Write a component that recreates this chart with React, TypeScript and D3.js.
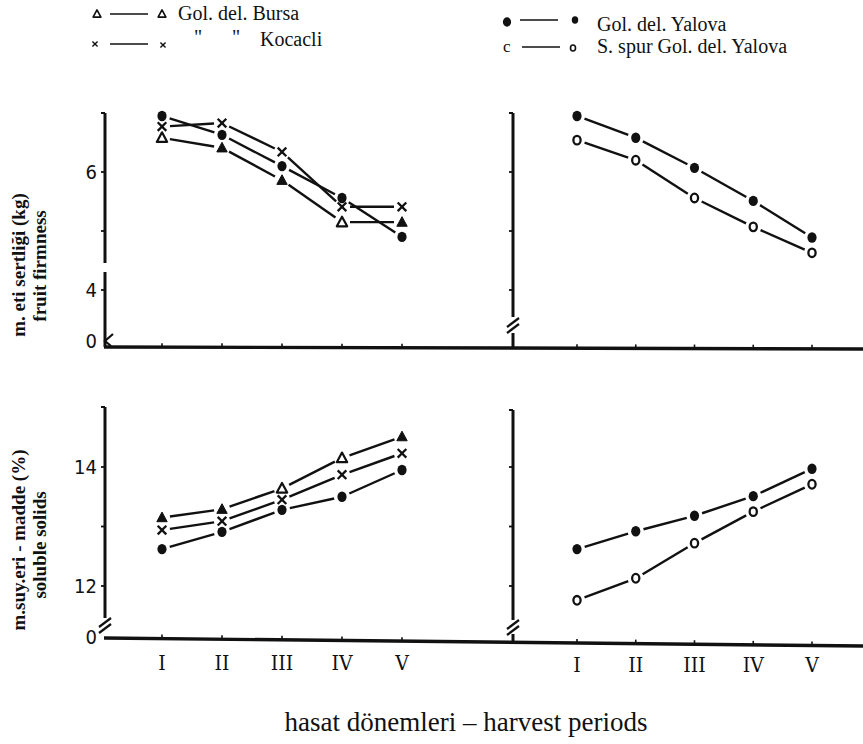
import React from "react";
import * as d3 from "d3";

// ---------- data ----------
const periods = ["I", "II", "III", "IV", "V"];

// fruit firmness (kg)
const firmBursa = [6.58, 6.41, 5.86, 5.15, 5.15];
const firmKocacli = [6.77, 6.83, 6.34, 5.41, 5.41];
const firmYalovaLeft = [6.95, 6.63, 6.1, 5.56, 4.9];
const firmYalovaRight = [6.95, 6.58, 6.07, 5.51, 4.89];
const firmSpur = [6.54, 6.2, 5.56, 5.07, 4.63];

// soluble solids (%)
const solBursa = [13.15, 13.29, 13.64, 14.15, 14.51];
const solKocacli = [12.94, 13.09, 13.45, 13.87, 14.23];
const solYalovaLeft = [12.62, 12.91, 13.28, 13.5, 13.95];
const solYalovaRight = [12.62, 12.92, 13.18, 13.51, 13.97];
const solSpur = [11.76, 12.13, 12.72, 13.25, 13.71];

const firmTicks = [4, 5, 6];
const firmTickLabels = ["4", "", "6"];
const solTicks = [12, 13, 14];
const solTickLabels = ["12", "", "14"];

const legendLeft = ["Gol. del. Bursa", "Kocacli"];
const legendRight = ["Gol. del. Yalova", "S. spur Gol. del. Yalova"];
const titleTop = ["m. eti sertliği (kg)", "fruit firmness"];
const titleBottom = ["m.suy.eri - madde (%)", "soluble solids"];
const xTitle = "hasat dönemleri – harvest periods";

// marker fill pattern for Bursa points as printed
const bursaFirmFilled = [false, true, true, false, true];
const bursaSolFilled = [true, true, false, false, true];

// ---------- styling ----------
const INK = "#111";
const SERIF = "Liberation Serif, Times New Roman, Tinos, DejaVu Serif, serif";
const COND = "DejaVu Sans Condensed, DejaVu Sans, sans-serif";
const ROMAN = "DejaVu Serif Condensed, DejaVu Serif, serif";

type MarkerKind = "tri" | "cross" | "dot" | "ring";

function Marker({ kind, x, y, filled, s = 1 }: { kind: MarkerKind; x: number; y: number; filled?: boolean; s?: number }) {
  if (kind === "dot") return <ellipse cx={x} cy={y} rx={4.6 * s} ry={5.2 * s} fill={INK} />;
  if (kind === "ring")
    return <ellipse cx={x} cy={y} rx={3.6 * s} ry={4.3 * s} fill="#fff" stroke={INK} strokeWidth={2.3 * s} />;
  if (kind === "cross") {
    const r = 4.3 * s;
    return (
      <g stroke={INK} strokeWidth={2.3 * s}>
        <line x1={x - r} y1={y - r} x2={x + r} y2={y + r} />
        <line x1={x - r} y1={y + r} x2={x + r} y2={y - r} />
      </g>
    );
  }
  const h = 5.5 * s;
  const w = 5.2 * s;
  const p = `M${x},${y - h}L${x + w},${y + h * 0.75}L${x - w},${y + h * 0.75}Z`;
  return filled ? (
    <path d={p} fill={INK} stroke={INK} strokeWidth={1} />
  ) : (
    <path d={p} fill="#fff" stroke={INK} strokeWidth={2.2 * s} strokeLinejoin="round" />
  );
}

function segments(xs: number[], ys: number[], gap: number) {
  const out: number[][] = [];
  for (let i = 0; i < xs.length - 1; i++) {
    const dx = xs[i + 1] - xs[i];
    const dy = ys[i + 1] - ys[i];
    const L = Math.hypot(dx, dy);
    const ux = dx / L;
    const uy = dy / L;
    out.push([xs[i] + ux * gap, ys[i] + uy * gap, xs[i + 1] - ux * gap, ys[i + 1] - uy * gap]);
  }
  return out;
}

type Series = { values: number[]; kind: MarkerKind; filled?: boolean[] };

function Panel({
  xRange,
  y,
  series,
  base,
}: {
  xRange: [number, number];
  y: d3.ScaleLinear<number, number>;
  series: Series[];
  base: (x: number) => number;
}) {
  const x = d3.scalePoint<string>().domain(periods).range(xRange);
  return (
    <g>
      {periods.map((p) => {
        const px = x(p)!;
        const b = base(px);
        return <line key={p} x1={px} x2={px} y1={b - 4} y2={b} stroke={INK} strokeWidth={1.6} />;
      })}
      {series.map((s, si) => {
        const xs = periods.map((p) => x(p)!);
        const ys = s.values.map((v) => y(v));
        return (
          <g key={si}>
            {segments(xs, ys, 8).map((sg, i) => (
              <line key={i} x1={sg[0]} y1={sg[1]} x2={sg[2]} y2={sg[3]} stroke={INK} strokeWidth={2.4} />
            ))}
            {xs.map((px, i) => (
              <Marker key={i} kind={s.kind} x={px} y={ys[i]} filled={s.filled ? s.filled[i] : false} />
            ))}
          </g>
        );
      })}
    </g>
  );
}

function YAxis({
  ax,
  top,
  y,
  ticks,
  labels,
  base,
  parts,
  slashY,
  squiggle,
}: {
  ax: number;
  top: number;
  y: d3.ScaleLinear<number, number>;
  ticks: number[];
  labels?: string[];
  base: number;
  parts: [number, number][];
  slashY?: number;
  squiggle?: boolean;
}) {
  return (
    <g>
      {parts.map((p, i) => (
        <line key={i} x1={ax} x2={ax} y1={p[0]} y2={p[1]} stroke={INK} strokeWidth={3} />
      ))}
      <line x1={ax - 4} x2={ax} y1={top} y2={top} stroke={INK} strokeWidth={2} />
      {ticks.map((t, i) => (
        <g key={t}>
          <line x1={ax - 4} x2={ax} y1={y(t)} y2={y(t)} stroke={INK} strokeWidth={1.8} />
          {labels && labels[i] ? (
            <text x={ax - 8} y={y(t) + 7} textAnchor="end" style={{ fontFamily: COND }} fontSize={20} fill={INK}>
              {labels[i]}
            </text>
          ) : null}
        </g>
      ))}
      {labels ? (
        <text x={ax - 8} y={base + 1} textAnchor="end" style={{ fontFamily: COND }} fontSize={20} fill={INK}>
          0
        </text>
      ) : null}
      {slashY !== undefined ? (
        <g stroke={INK} strokeWidth={2.2}>
          <line x1={ax - 6} y1={slashY + 5} x2={ax + 6} y2={slashY - 4} />
          <line x1={ax - 6} y1={slashY + 11} x2={ax + 6} y2={slashY + 2} />
        </g>
      ) : null}
      {squiggle ? (
        <path d={`M${ax + 8},${base - 13}L${ax},${base - 6}L${ax + 6},${base - 1}`} fill="none" stroke={INK} strokeWidth={2.2} />
      ) : null}
    </g>
  );
}

const serifStyle = { fontFamily: SERIF };

export default function App() {
  const yTop = d3.scaleLinear().domain([4, 6]).range([290, 172]);
  const yBot = d3.scaleLinear().domain([12, 14]).range([586, 467]);

  const topBase = (px: number) => 347 + ((px - 105) * 2) / 758;
  const botBase = (px: number) => 638 + ((px - 105) * 8) / 758;

  const lx = d3.scalePoint<string>().domain(periods).range([162, 402]);
  const rx = d3.scalePoint<string>().domain(periods).range([577, 812]);

  return (
    <svg width={863} height={744} style={{ position: "absolute", left: 0, top: 0, background: "#fff" }}>
      <rect width={863} height={744} fill="#fff" />

      {/* legends */}
      <g style={serifStyle} fontSize={20} fill={INK}>
        <Marker kind="tri" x={97} y={14} s={0.75} />
        <line x1={110} x2={148} y1={14} y2={14} stroke={INK} strokeWidth={1.6} />
        <Marker kind="tri" x={162} y={14} s={0.75} />
        <text x={178} y={20}>{legendLeft[0]}</text>
        <Marker kind="cross" x={95} y={44} s={0.6} />
        <line x1={110} x2={148} y1={44} y2={44} stroke={INK} strokeWidth={1.6} />
        <Marker kind="cross" x={163} y={45} s={0.6} />
        <text x={194} y={44}>"</text>
        <text x={232} y={44}>"</text>
        <text x={260} y={46}>{legendLeft[1]}</text>

        <Marker kind="dot" x={507} y={22} s={0.9} />
        <line x1={520} x2={558} y1={20} y2={20} stroke={INK} strokeWidth={1.6} />
        <Marker kind="dot" x={575} y={20} s={0.7} />
        <text x={597} y={31}>{legendRight[0]}</text>
        <text x={503} y={52} fontSize={17}>c</text>
        <line x1={522} x2={560} y1={47} y2={47} stroke={INK} strokeWidth={1.6} />
        <Marker kind="ring" x={573} y={48} s={0.7} />
        <text x={597} y={53}>{legendRight[1]}</text>
      </g>

      {/* baselines */}
      <line x1={104} y1={topBase(104)} x2={863} y2={topBase(863)} stroke={INK} strokeWidth={3.4} />
      <line x1={104} y1={botBase(104)} x2={863} y2={botBase(863)} stroke={INK} strokeWidth={3.4} />

      {/* y axes */}
      <YAxis ax={105} top={113} y={yTop} ticks={firmTicks} labels={firmTickLabels} base={347}
        parts={[[113, 263], [272, 347]]} squiggle />
      <YAxis ax={513} top={113} y={yTop} ticks={firmTicks} base={348}
        parts={[[113, 317], [333, 348]]} slashY={322} />
      <YAxis ax={105} top={407} y={yBot} ticks={solTicks} labels={solTickLabels} base={643}
        parts={[[407, 618]]} slashY={622} />
      <YAxis ax={513} top={410} y={yBot} ticks={solTicks} base={642}
        parts={[[410, 620], [634, 642]]} slashY={624} />

      {/* panels */}
      <Panel xRange={[162, 402]} y={yTop} base={topBase}
        series={[
          { values: firmBursa, kind: "tri", filled: bursaFirmFilled },
          { values: firmKocacli, kind: "cross" },
          { values: firmYalovaLeft, kind: "dot" },
        ]} />
      <Panel xRange={[577, 812]} y={yTop} base={topBase}
        series={[
          { values: firmYalovaRight, kind: "dot" },
          { values: firmSpur, kind: "ring" },
        ]} />
      <Panel xRange={[162, 402]} y={yBot} base={botBase}
        series={[
          { values: solBursa, kind: "tri", filled: bursaSolFilled },
          { values: solKocacli, kind: "cross" },
          { values: solYalovaLeft, kind: "dot" },
        ]} />
      <Panel xRange={[577, 812]} y={yBot} base={botBase}
        series={[
          { values: solYalovaRight, kind: "dot" },
          { values: solSpur, kind: "ring" },
        ]} />

      {/* category labels */}
      {periods.map((p) => (
        <text key={"l" + p} x={lx(p)!} y={670} textAnchor="middle" style={{ fontFamily: ROMAN }} fontSize={21} fill={INK}>
          {p}
        </text>
      ))}
      {periods.map((p) => (
        <text key={"r" + p} x={rx(p)!} y={672} textAnchor="middle" style={{ fontFamily: ROMAN }} fontSize={21} fill={INK}>
          {p}
        </text>
      ))}

      {/* axis titles */}
      <g style={serifStyle} fontWeight="bold" fill={INK} textAnchor="middle" fontSize={19}>
        <text transform="translate(25,265) rotate(-90)">{titleTop[0]}</text>
        <text transform="translate(46,266) rotate(-90)">{titleTop[1]}</text>
        <text transform="translate(25,540) rotate(-90)">{titleBottom[0]}</text>
        <text transform="translate(46,545) rotate(-90)">{titleBottom[1]}</text>
      </g>

      <text x={466} y={731} textAnchor="middle" style={serifStyle} fontSize={27} fill={INK}>
        {xTitle}
      </text>
    </svg>
  );
}
